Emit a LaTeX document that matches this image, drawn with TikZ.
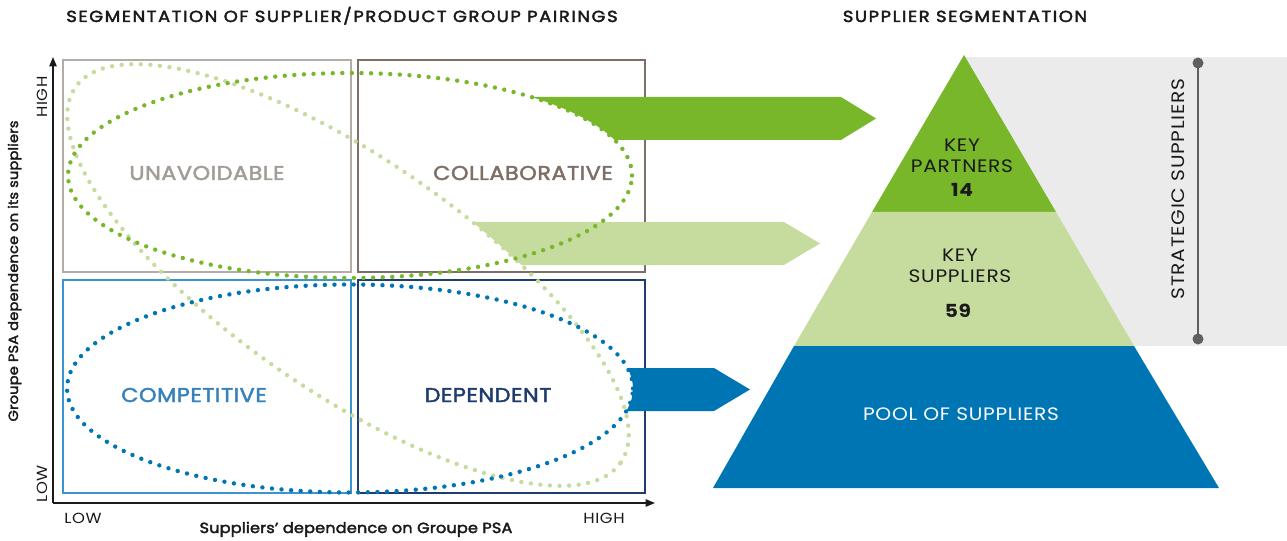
\documentclass[tikz,border=0pt]{standalone}
\usepackage{fontspec}
\setmainfont{Poppins}[FakeStretch=1.12, LetterSpace=4]
\newfontfamily\headfont{Poppins}[FakeStretch=1.12, LetterSpace=10, FakeBold=2.6]
\newfontfamily\quadfont{Poppins}[FakeStretch=1.12, LetterSpace=2.5, FakeBold=2.2]
\newfontfamily\semifont{Poppins}[FakeStretch=1.1, LetterSpace=1, FakeBold=2.6]
\usetikzlibrary{arrows.meta}
\newcommand{\Px}{0.75pt}
\newcommand{\Frame}{2.2pt}
\newcommand{\DotW}{3.3pt}
\newcommand{\Apex}{964}
\definecolor{leafgreen}{HTML}{78B72A}
\definecolor{palegreen}{HTML}{C5DC9E}
\definecolor{seablue}{HTML}{0075B3}
\definecolor{skyblue}{HTML}{3B93CF}
\definecolor{navy}{HTML}{1F3C6E}
\definecolor{stone}{HTML}{B4ADA7}
\definecolor{taupe}{HTML}{7D6F67}
\definecolor{mist}{HTML}{EBEBEB}
\definecolor{rod}{HTML}{5F5F5F}
\definecolor{ink}{HTML}{1A1A1A}

\begin{document}
\begin{tikzpicture}[x=\Px, y=\Px, line join=miter,
    headline/.style={font=\headfont\fontsize{12}{14}\selectfont, text=ink, anchor=base, inner sep=0pt},
    quadlabel/.style={font=\quadfont\fontsize{15}{18}\selectfont, anchor=base, inner sep=0pt},
    axislabel/.style={font=\fontsize{11}{13}\selectfont, text=ink, anchor=base, inner sep=0pt},
    axistitle/.style={font=\semifont\fontsize{11}{13}\selectfont, text=ink, anchor=base, inner sep=0pt},
    tierlabel/.style={font=\fontsize{13.5}{16}\selectfont, text=ink, anchor=base, inner sep=0pt},
    dotring/.style={line width=\DotW, line cap=round, dash pattern=on 0pt off 7.2pt}]

  \useasboundingbox (0,0) rectangle (1287,-541);

  % ---- headings -----------------------------------------------------------
  \node[headline] (segtitle) at (342,-22) {SEGMENTATION OF SUPPLIER/PRODUCT GROUP PAIRINGS};
  \node[headline] (pyrtitle) at (965,-22) {SUPPLIER SEGMENTATION};

  % ---- the four quadrants -------------------------------------------------
  \draw[stone,line width=\Frame] (63,-60) rectangle (351,-272);
  \draw[taupe,line width=\Frame] (358,-60) rectangle (645,-272);
  \draw[skyblue,line width=\Frame] (63,-280) rectangle (351,-493);
  \draw[navy,line width=\Frame] (358,-280) rectangle (645,-493);
  \node[quadlabel,text=stone!90!black] (unavoidable) at (207,-180) {UNAVOIDABLE};
  \node[quadlabel,text=taupe] (collaborative) at (523,-180) {COLLABORATIVE};
  \node[quadlabel,text=skyblue!80!navy] (competitive) at (194,-402) {COMPETITIVE};
  \node[quadlabel,text=navy] (dependent) at (488,-402) {DEPENDENT};

  % ---- axes ---------------------------------------------------------------
  \draw[ink,line width=1.1pt,-{Triangle[length=7pt,width=5.5pt]}] (53,-503) -- (53,-57);
  \draw[ink,line width=1.1pt,-{Triangle[length=7pt,width=5.5pt]}] (53,-503) -- (655,-503);
  \node[axislabel] (xlow) at (83,-523) {LOW};
  \node[axislabel] (xhigh) at (604,-523) {HIGH};
  \node[axistitle] (xtitle) at (356,-533) {Suppliers’ dependence on Groupe PSA};
  \node[axislabel,rotate=90] (yhigh) at (47,-97) {HIGH};
  \node[axislabel,rotate=90] (ylow) at (47,-484) {LOW};
  \node[axistitle,rotate=90,font=\semifont\fontsize{10}{12}\selectfont] (ytitle) at (18,-271)
    {Groupe PSA dependence on its suppliers};

  % ---- block arrows, each cut by its own ring ------------------------------
  \begin{scope}[even odd rule]
    \clip (0,0) rectangle (1287,-541)
      (350,-175.5) ellipse [x radius=282, y radius=102.5];
    \fill[leafgreen] (420,-97) -- (841,-97) -- (876,-118.5) -- (841,-140) -- (420,-140) -- cycle;
  \end{scope}
  \begin{scope}[even odd rule, rotate around={-34.5:(348,-275)}]
    \clip (-700,900) rectangle (2000,-1500)
      (348,-275) ellipse [x radius=331, y radius=117];
    \fill[palegreen,rotate around={34.5:(348,-275)}]
      (400,-222) -- (784,-222) -- (820,-243.5) -- (784,-265) -- (400,-265) -- cycle;
  \end{scope}
  \begin{scope}[even odd rule]
    \clip (0,0) rectangle (1287,-541)
      (350,-388.5) ellipse [x radius=283, y radius=104];
    \fill[seablue] (550,-368) -- (714,-368) -- (750,-389.5) -- (714,-411) -- (550,-411) -- cycle;
  \end{scope}

  % ---- dotted rings -------------------------------------------------------
  \draw[dotring,palegreen,rotate around={-34.5:(348,-275)}]
    (348,-275) ellipse [x radius=331, y radius=117];
  \draw[dotring,leafgreen] (350,-175.5) ellipse [x radius=282, y radius=102.5];
  \draw[dotring,seablue] (350,-388.5) ellipse [x radius=283, y radius=104];

  % ---- pyramid ------------------------------------------------------------
  \fill[mist] (\Apex,-57) rectangle (1287,-346);
  \fill[leafgreen] (\Apex,-55) -- (1056,-212) -- (872,-212) -- cycle;
  \fill[palegreen] (872,-212) -- (1056,-212) -- (1134,-346) -- (794,-346) -- cycle;
  \fill[seablue] (794,-346) -- (1134,-346) -- (1219,-488) -- (713,-488) -- cycle;

  \node[tierlabel] (kpkey) at (962,-152) {KEY};
  \node[tierlabel] (kpname) at (962,-173) {PARTNERS};
  \node[tierlabel,font=\fontsize{13.5}{16}\selectfont\bfseries] (kpcount) at (962,-197) {14};
  \node[tierlabel] (kskey) at (960,-262) {KEY};
  \node[tierlabel] (ksname) at (960,-283) {SUPPLIERS};
  \node[tierlabel,font=\fontsize{13.5}{16}\selectfont\bfseries] (kscount) at (958,-317) {59};
  \node[tierlabel,text=white] (pool) at (961,-420) {POOL OF SUPPLIERS};

  % ---- strategic bracket --------------------------------------------------
  \draw[rod,line width=2.2pt] (1198,-63) -- (1198,-339);
  \fill[rod] (1198,-63) circle (5.5) (1198,-339) circle (5.5);
  \node[tierlabel,rotate=90,text=ink] (strategic) at (1184,-189) {STRATEGIC SUPPLIERS};

\end{tikzpicture}
\end{document}
